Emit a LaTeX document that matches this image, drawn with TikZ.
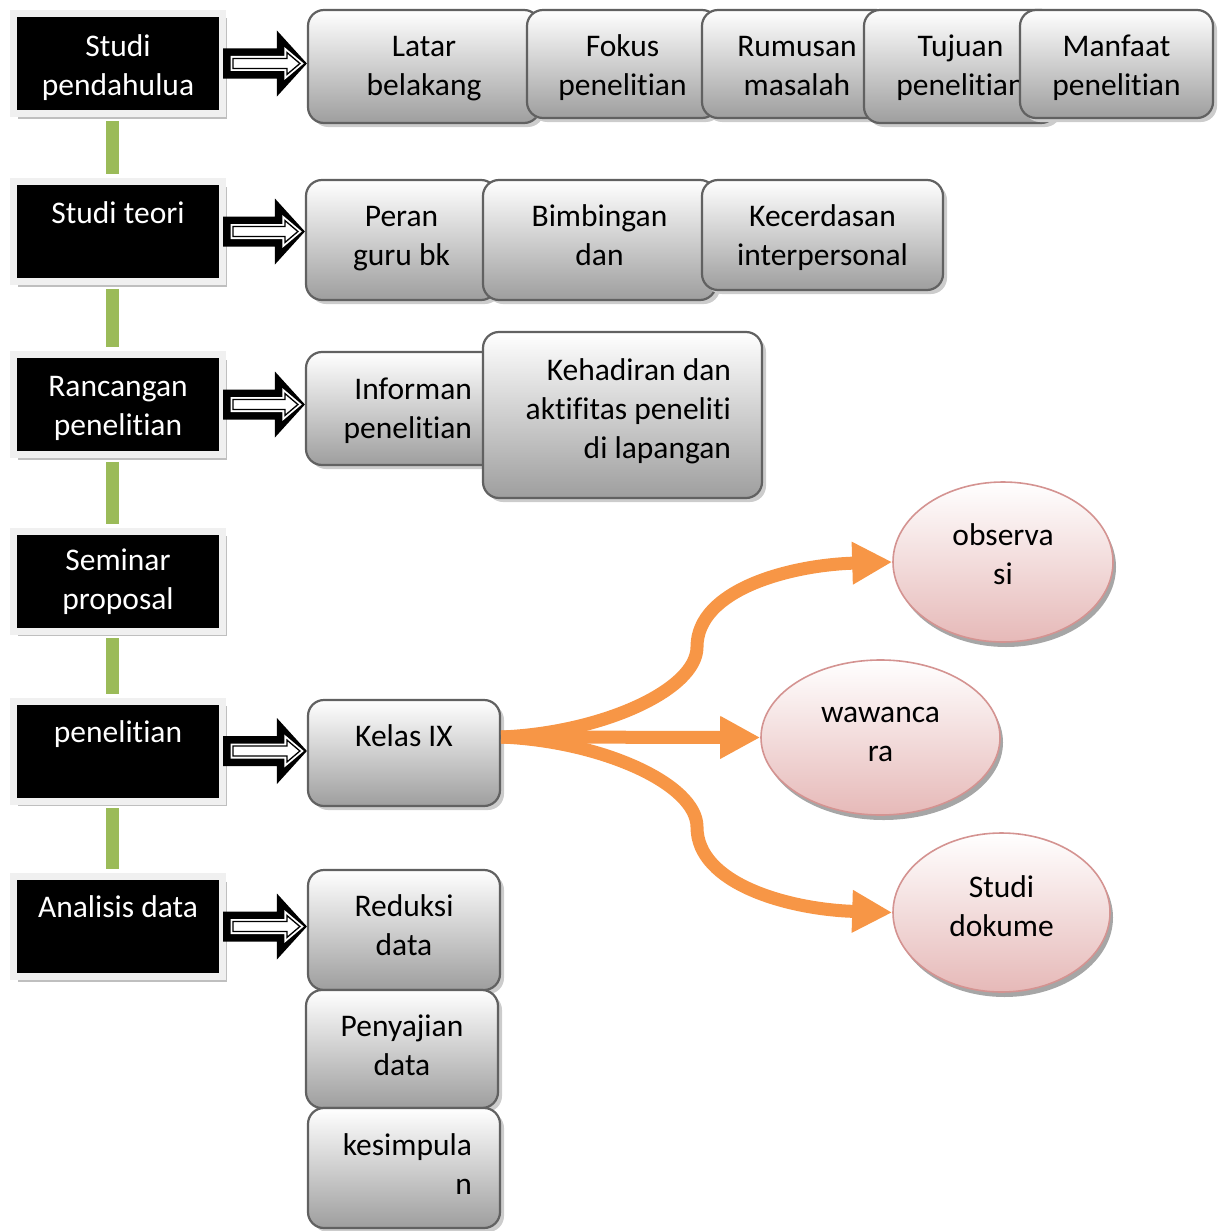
\documentclass[tikz,border=0pt]{standalone}
\usepackage{fontspec}
\setmainfont{Carlito}[Ligatures=NoCommon]
\usetikzlibrary{shapes.geometric,shadows,calc,arrows.meta}
\definecolor{flowor}{HTML}{F79646}
\definecolor{linkgr}{HTML}{9BBB59}
\definecolor{pinkbot}{HTML}{E6B9B8}
\definecolor{pinkline}{HTML}{D49391}
% invisible rules that set where the lines sit in a box
\newcommand\capstrut[1]{\rule{0pt}{#1pt}}
\newcommand\descstrut[1]{\rule[-#1pt]{0pt}{0pt}}
\begin{document}
\begin{tikzpicture}
      [ x=1pt, y=-1pt,
        every node/.style={font=\fontsize{31.5}{39}\selectfont, inner sep=0pt},
        blackbox/.style={fill=black, draw=black!6, line width=7pt,
          text=white, align=center, minimum width=209pt, minimum height=100pt,
          drop shadow={shadow xshift=4pt, shadow yshift=-5pt, fill=black!25, opacity=1}},
        graybox/.style={rounded corners=16pt, draw=black!62, line width=2.2pt,
          top color=white, bottom color=black!38, align=center,
          drop shadow={shadow xshift=4pt, shadow yshift=-4pt, fill=black!20, opacity=1}},
        pinkball/.style={ellipse, draw=pinkline, line width=1.6pt,
          top color=white, bottom color=pinkbot, align=center,
          drop shadow={shadow xshift=3pt, shadow yshift=-5pt, fill=black!35, opacity=1}},
        link/.style={linkgr, line width=13pt, shorten <=3.8pt, shorten >=3.8pt},
        flow/.style={flowor, line width=13pt, -{Triangle[length=40pt,width=40pt]}},
        % black block arrow, then the white hollow one inside it
        bigarrow/.style={fill=black, to path={
          ($(\tikztostart)+(-3,-15)$) -- ($(\tikztotarget|-\tikztostart)+(-30,-15)$)
          -- ($(\tikztotarget|-\tikztostart)+(-30,-33)$) -- (\tikztotarget|-\tikztostart)
          -- ($(\tikztotarget|-\tikztostart)+(-30,33)$) -- ($(\tikztotarget|-\tikztostart)+(-30,15)$)
          -- ($(\tikztostart)+(-3,15)$) -- cycle}},
        hollowarrow/.style={draw=black, line width=1.3pt, fill=white,
          preaction={draw=white, line width=5pt}, to path={
          ($(\tikztostart)+(7,-5)$) -- ($(\tikztotarget|-\tikztostart)+(-20,-5)$)
          -- ($(\tikztotarget|-\tikztostart)+(-20,-11)$) -- ($(\tikztotarget|-\tikztostart)+(-7,0)$)
          -- ($(\tikztotarget|-\tikztostart)+(-20,11)$) -- ($(\tikztotarget|-\tikztostart)+(-20,5)$)
          -- ($(\tikztostart)+(7,5)$) -- cycle}}
      ]
      \useasboundingbox (0,0) rectangle (1222,1231);

      % left column
      \node[blackbox] (s1) at (118,63.5) {\capstrut{34.4}Studi\\pendahulua\descstrut{10}};
      \node[blackbox] (s2) at (118,231.5) {\capstrut{32.4}Studi teori\\~\descstrut{10}};
      \node[blackbox] (s3) at (118,404.5) {\capstrut{32.4}Rancangan\\penelitian\descstrut{10}};
      \node[blackbox] (s4) at (118,581) {\capstrut{27.4}Seminar\\proposal\descstrut{10}};
      \node[blackbox] (s5) at (118,751) {\capstrut{31.4}penelitian\\~\descstrut{10}};
      \node[blackbox] (s6) at (118,926.5) {\capstrut{30.4}Analisis data\\~\descstrut{10}};

      % first row
      \node[graybox, minimum width=232pt, minimum height=113pt] (latar) at (424,66.5) {\capstrut{28.4}Latar\\belakang\descstrut{10}};
      \node[graybox, minimum width=191pt, minimum height=108pt] (fokus) at (622.5,64) {\capstrut{33.4}Fokus\\penelitian\descstrut{10}};
      \node[graybox, minimum width=190pt, minimum height=108pt] (rumusan) at (797,64) {\capstrut{33.4}Rumusan\\masalah\descstrut{10}};
      \node[graybox, minimum width=193pt, minimum height=113pt] (tujuan) at (960.5,66.5) {\capstrut{28.4}Tujuan\\penelitian\descstrut{10}};
      \node[graybox, minimum width=193pt, minimum height=108pt] (manfaat) at (1116.5,64) {\capstrut{33.4}Manfaat\\penelitian\descstrut{10}};

      % second row
      \node[graybox, minimum width=191pt, minimum height=120pt] (peran) at (401.5,240) {\capstrut{21.4}Peran\\guru bk\descstrut{10}};
      \node[graybox, minimum width=233pt, minimum height=120pt] (bimbingan) at (599.5,240) {\capstrut{22}Bimbingan\\dan\descstrut{10.6}};
      \node[graybox, minimum width=241pt, minimum height=110pt] (kecerdasan) at (822.5,235) {\capstrut{31.4}Kecerdasan\\interpersonal\descstrut{10}};

      % third row
      \node[graybox, align=flush right, text width=136pt, minimum width=196pt, minimum height=113pt] (informan) at (404,408.5) {\capstrut{30.4}Informan\\penelitian\descstrut{10}};
      \node[graybox, align=flush right, text width=217pt, minimum width=279pt, minimum height=166pt] (kehadiran) at (622.5,415) {\capstrut{22}Kehadiran dan\\aktifitas peneliti\\di lapangan\descstrut{13.6}};

      % research
      \node[graybox, minimum width=192pt, minimum height=106pt] (kelas) at (404,753) {\capstrut{35.4}Kelas IX\\~\descstrut{10}};
      \node[pinkball, minimum width=220pt, minimum height=160pt] (obs) at (1003,562) {\capstrut{22}observa\\si\descstrut{16.6}};
      \node[pinkball, minimum width=239pt, minimum height=155pt] (waw) at (880.5,737.5) {\capstrut{18}wawanca\\ra\descstrut{10}};
      \node[pinkball, minimum width=217pt, minimum height=159pt] (dok) at (1001.5,912.5) {\capstrut{22}Studi\\dokume\descstrut{13.6}};

      % analysis
      \node[graybox, minimum width=192pt, minimum height=120pt] (reduksi) at (404,930) {\capstrut{22}Reduksi\\data\descstrut{10.6}};
      \node[graybox, minimum width=192pt, minimum height=118pt] (penyajian) at (402,1049) {\capstrut{23.4}Penyajian\\data\descstrut{10}};
      \node[graybox, align=flush right, text width=136pt, minimum width=192pt, minimum height=120pt] (kesimpulan) at (404,1168) {\capstrut{23.4}kesimpula\\n\descstrut{10}};

      \foreach \a/\b in {s1/s2, s2/s3, s3/s4, s4/s5, s5/s6}
        \draw[link] ([xshift=-5.5pt]\a.south) -- ([xshift=-5.5pt]\b.north);

      \foreach \a/\b in {s1/latar, s2/peran, s3/informan, s5/kelas, s6/reduksi}{
        \fill[bigarrow] (\a.east) to (\b.west);
        \draw[hollowarrow] (\a.east) to (\b.west);
      }

      \coordinate (fork) at ([yshift=16pt]kelas.east);
      \coordinate (upbend) at (697,647);
      \coordinate (lowbend) at (697,827);
      \draw[flow] (fork) -- (waw.west);
      \draw[flow] (fork) .. controls +(100,-4) and +(0,43) .. (upbend)
        .. controls +(0,-57) and +(-103,3) .. (obs.west);
      \draw[flow] (fork) .. controls +(100,4) and +(0,-43) .. (lowbend)
        .. controls +(0,57) and +(-103,-3) .. (dok.west);
\end{tikzpicture}
\end{document}
